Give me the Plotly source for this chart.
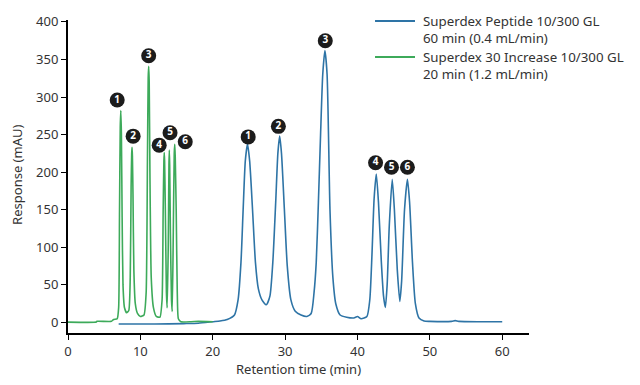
import plotly.graph_objects as go

# Superdex 30 Increase 10/300 GL, 20 min (1.2 mL/min)
green_t = [0, 3.9, 4.0, 6.0, 6.3, 6.8, 7.0, 7.12, 7.22, 7.3, 7.38, 7.48, 7.6, 7.8, 8.1, 8.4, 8.6, 8.72, 8.8, 8.85, 8.9, 8.98,
           9.1, 9.3, 9.6, 10.0, 10.5, 10.8, 10.98, 11.08, 11.15, 11.22, 11.32, 11.5, 11.8, 12.2, 12.7, 13.0, 13.15, 13.25,
           13.3, 13.35, 13.45, 13.6, 13.7, 13.85, 13.95, 14.0, 14.05, 14.15, 14.3, 14.4, 14.55, 14.68, 14.75, 14.82, 14.95,
           15.1, 15.25, 15.6, 17.0, 18.0, 20.0]
green_y = [0.5, 0.5, 1.5, 1.5, 4, 5, 20, 150, 260, 282, 250, 140, 50, 20, 13, 16, 60, 180, 225, 233, 222, 170,
           70, 25, 12, 8, 10, 40, 220, 325, 341, 320, 200, 60, 20, 8, 7, 30, 150, 215,
           226, 215, 150, 40, 19.5, 100, 210, 229.5, 210, 120, 30, 14.6, 120, 225, 237, 220, 150,
           40, 5, 1, 1, 1.5, 1]

# Superdex Peptide 10/300 GL, 60 min (0.4 mL/min)
blue_t = [7.0, 12.0, 16.0, 18.0, 20.0, 21.0, 22.0, 23.0, 23.5, 23.9, 24.2, 24.5, 24.8, 25.1, 25.5, 25.9, 26.3, 26.8, 27.4,
          27.9, 28.3, 28.7, 29.0, 29.25, 29.5, 29.9, 30.3, 30.8, 31.4, 32.2, 33.0, 33.6, 34.0, 34.3, 34.6, 34.9, 35.2,
          35.5, 35.8, 36.2, 36.6, 37.0, 37.6, 38.5, 39.5, 40.0, 40.5, 41.3, 41.7, 42.0, 42.3, 42.6, 42.9, 43.3, 43.6,
          43.85, 44.1, 44.4, 44.8, 45.1, 45.5, 45.85, 46.1, 46.5, 46.9, 47.2, 47.6, 48.0, 48.5, 49.2, 50.0, 53.0, 53.5,
          54.0, 57.0, 60.0]
blue_y = [-2, -2, -1.5, -1, 1, 2, 4, 10, 30, 80, 150, 215, 237.5, 215, 150, 80, 45, 30, 23.5,
          35, 80, 160, 225, 248, 225, 150, 75, 30, 15, 10, 8, 12, 40, 80, 160, 250, 330,
          362, 330, 150, 60, 25, 10, 7, 6, 8, 5, 8, 30, 90, 165, 197.6, 160, 80, 35,
          20, 50, 130, 190.5, 150, 70, 28, 55, 150, 190.5, 160, 80, 25, 6, 2, 1.5, 1.5, 2.5,
          1.5, 1, 1]

# Peak label positions (min, mAU) and numbers
green_lab_t = [6.8, 9.0, 11.15, 12.6, 14.1, 16.2]
green_lab_y = [296, 248, 355, 236, 252.5, 240.5]
blue_lab_t = [24.9, 29.07, 35.55, 42.5, 44.7, 46.9]
blue_lab_y = [247, 261, 375, 212.6, 206.5, 206.5]
peak_numbers = ["1", "2", "3", "4", "5", "6"]

series_names = ["Superdex Peptide 10/300 GL", "Superdex 30 Increase 10/300 GL"]
series_sub = ["60 min (0.4 mL/min)", "20 min (1.2 mL/min)"]

x_ticks = [0, 10, 20, 30, 40, 50, 60]
y_ticks = [0, 50, 100, 150, 200, 250, 300, 350, 400]

BLUE = "#2e74a6"
GREEN = "#3daa5a"
FONT = "Noto Sans"
TEXT = "#333333"

fig = go.Figure()
fig.add_trace(go.Scatter(
    x=blue_t, y=blue_y, mode="lines", line=dict(color=BLUE, width=1.6, shape="spline", smoothing=0.6),
    name=series_names[0] + " " + series_sub[0], showlegend=False))
fig.add_trace(go.Scatter(
    x=green_t, y=green_y, mode="lines", line=dict(color=GREEN, width=1.6, shape="spline", smoothing=0.5),
    name=series_names[1] + " " + series_sub[1], showlegend=False))

for lt, ly in ((green_lab_t, green_lab_y), (blue_lab_t, blue_lab_y)):
    fig.add_trace(go.Scatter(
        x=lt, y=ly, mode="markers+text", text=peak_numbers, textposition="middle center",
        marker=dict(size=15, color="#1c1c1c"),
        textfont=dict(color="white", size=10, family=FONT, weight="bold"),
        showlegend=False, hoverinfo="skip", cliponaxis=False))

# Legend drawn as paper-positioned samples + text lines (avoids legend auto-margin pushes)
legend_y_main = [0.96, 0.8492]
legend_y_sub = [0.9077, 0.7969]
shapes = []
annotations = []
for name, sub, col, ym, ys in zip(series_names, series_sub, [BLUE, GREEN], legend_y_main, legend_y_sub):
    shapes.append(dict(type="line", xref="paper", yref="paper", x0=0.666, x1=0.7527, y0=ym, y1=ym,
                       line=dict(color=col, width=2)))
    for txt, yy in ((name, ym), (sub, ys)):
        annotations.append(dict(text=txt, xref="paper", yref="paper", x=0.768, y=yy, xanchor="left",
                                yanchor="middle", align="left", showarrow=False, borderpad=0,
                                font=dict(size=13.3, color=TEXT, family=FONT)))
annotations.append(dict(text="Response (mAU)", textangle=-90, xref="paper", yref="paper",
                        x=-0.111, y=0.486, xanchor="center", yanchor="middle", showarrow=False,
                        font=dict(size=13, color=TEXT)))

# The page body adds an 8px margin, so the figure is 8px smaller and margins compensate.
fig.update_layout(
    width=632, height=377,
    margin=dict(l=60, r=111, t=0, b=52),
    paper_bgcolor="white", plot_bgcolor="white",
    font=dict(family=FONT, size=13, color=TEXT),
    showlegend=False,
    shapes=shapes,
    annotations=annotations,
)
fig.update_xaxes(
    range=[0, 63.7], tickvals=x_ticks, ticktext=[str(v) for v in x_ticks], automargin=False,
    showgrid=False, zeroline=False, showline=True, linecolor="black", linewidth=2,
    ticks="outside", ticklen=5, tickcolor="black",
    title=dict(text="Retention time (min)", standoff=2, font=dict(size=13)))
fig.update_yaxes(
    range=[-14, 402.5], domain=[0, 0.963], tickvals=y_ticks, ticktext=[str(v) for v in y_ticks], automargin=False,
    showgrid=False, zeroline=False, showline=True, linecolor="black", linewidth=2,
    ticks="outside", ticklen=5, tickcolor="black")

fig.write_html("out.html")
